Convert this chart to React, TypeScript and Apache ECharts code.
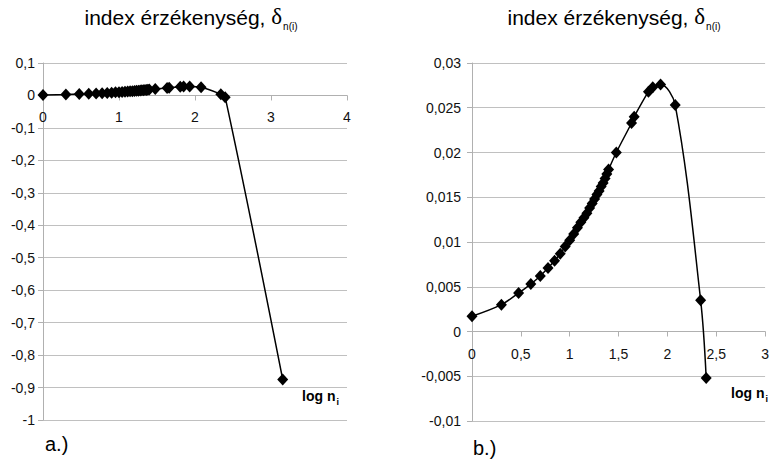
import React, { useEffect, useRef } from "react";
import * as echarts from "echarts";

// log n_i values (x) and index sensitivity values (y)
const logN = [
  0, 0.301, 0.477, 0.602, 0.699, 0.778, 0.845, 0.903, 0.954, 1.0, 1.041, 1.079,
  1.114, 1.146, 1.176, 1.204, 1.23, 1.255, 1.279, 1.301, 1.322, 1.342, 1.362,
  1.38, 1.398, 1.477, 1.633, 1.66, 1.806, 1.85, 1.93, 2.08, 2.34, 2.397,
];
const delta = [
  0.0017, 0.003, 0.0043, 0.0053, 0.0062, 0.0071, 0.0079, 0.0087, 0.0095, 0.0102,
  0.0109, 0.0116, 0.0122, 0.0127, 0.0132, 0.0138, 0.0143, 0.0148, 0.0153,
  0.0157, 0.0162, 0.0166, 0.0171, 0.0176, 0.0181, 0.02, 0.0233, 0.024, 0.0268,
  0.0273, 0.0276, 0.0253, 0.0035, -0.0052,
];
// extra far point shown only in chart a.)
const extraLogN = [3.154];
const extraDelta = [-0.875];

// axis ranges
const yRangeA = [-1, 0.1];
const yRangeB = [-0.01, 0.03];
const xMaxA = 4;
const xMaxB = 3;

const FONT = "Liberation Sans, Arial, sans-serif";
const GRID_COLOR = "#c0c0c0";
const AXIS_COLOR = "#b0b0b0";

const fmt = (v: number) => {
  const r = Number(v.toFixed(4));
  return String(r).replace(".", ",");
};

export default function App() {
  const ref = useRef<HTMLDivElement>(null);
  useEffect(() => {
    if (!ref.current) return;
    const chart = echarts.init(ref.current, undefined, { renderer: "svg" });

    const dataA = logN.map((x, i) => [x, delta[i]]).concat(
      extraLogN.map((x, i) => [x, extraDelta[i]])
    );
    const dataB = logN.map((x, i) => [x, delta[i]]);

    const gridA = { left: 43, top: 63, width: 304, height: 357 };
    const gridB = { left: 472, top: 63, width: 297, height: 358 };
    // distance of the zero line from the bottom of each grid
    const zeroOffA = ((0 - yRangeA[0]) / (yRangeA[1] - yRangeA[0])) * gridA.height;
    const zeroOffB = ((0 - yRangeB[0]) / (yRangeB[1] - yRangeB[0])) * gridB.height;

    const axisX = (gi: number, max: number, interval: number, zeroOff: number) => ({
      type: "value" as const,
      gridIndex: gi,
      min: 0,
      max,
      interval,
      position: "bottom" as const,
      offset: -zeroOff,
      axisLine: { show: true, onZero: false, lineStyle: { color: AXIS_COLOR, width: 1 } },
      axisTick: { show: true, length: 5, lineStyle: { color: AXIS_COLOR } },
      splitLine: { show: false },
      axisLabel: {
        color: "#111",
        fontSize: 14,
        fontFamily: FONT,
        margin: 15,
        formatter: fmt,
        showMaxLabel: true,
      },
    });
    const axisY = (gi: number, min: number, max: number, interval: number, margin: number) => ({
      type: "value" as const,
      gridIndex: gi,
      min,
      max,
      interval,
      axisLine: { show: true, onZero: false, lineStyle: { color: AXIS_COLOR, width: 1 } },
      axisTick: { show: true, length: 5, lineStyle: { color: AXIS_COLOR } },
      splitLine: { show: true, lineStyle: { color: GRID_COLOR, width: 1 } },
      axisLabel: {
        color: "#111",
        fontSize: 14,
        fontFamily: FONT,
        margin,
        formatter: fmt,
      },
    });

    const titleRich = {
      a: { fontSize: 21, fontWeight: "normal", fontFamily: FONT, color: "#000", lineHeight: 28, verticalAlign: "bottom" },
      d: { fontSize: 23, fontWeight: "normal", fontFamily: "Liberation Serif, Times New Roman, serif", color: "#000", lineHeight: 28, verticalAlign: "bottom" },
      s: { fontSize: 10, fontWeight: "normal", fontFamily: FONT, color: "#000", lineHeight: 10, verticalAlign: "bottom", padding: [0, 0, -3, 1] },
    };
    const titleText = "{a|index érzékenység, }{d|δ}{s|n(i)}";

    const lognRich = {
      b: { fontSize: 14, fontWeight: "bold", fontFamily: FONT, color: "#000", lineHeight: 18, verticalAlign: "bottom" },
      i: { fontSize: 9, fontWeight: "bold", fontFamily: FONT, color: "#000", lineHeight: 9, verticalAlign: "bottom", padding: [0, 0, -3, 1] },
    };

    chart.setOption({
      animation: false,
      backgroundColor: "#fff",
      title: [
        { text: titleText, left: 186, top: -5, textAlign: "center", textStyle: { fontWeight: "normal", rich: titleRich } },
        { text: titleText, left: 609, top: -5, textAlign: "center", textStyle: { fontWeight: "normal", rich: titleRich } },
      ],
      grid: [gridA, gridB],
      xAxis: [axisX(0, xMaxA, 1, zeroOffA), axisX(1, xMaxB, 0.5, zeroOffB)],
      yAxis: [
        axisY(0, yRangeA[0], yRangeA[1], 0.1, 8),
        axisY(1, yRangeB[0], yRangeB[1], 0.005, 11),
      ],
      series: [
        {
          type: "line",
          xAxisIndex: 0,
          yAxisIndex: 0,
          data: dataA,
          smooth: 0.35,
          symbol: "diamond",
          symbolSize: [11, 12],
          itemStyle: { color: "#000" },
          lineStyle: { color: "#000", width: 1.5 },
        },
        {
          type: "line",
          xAxisIndex: 1,
          yAxisIndex: 1,
          data: dataB,
          smooth: 0.35,
          symbol: "diamond",
          symbolSize: [11, 12],
          itemStyle: { color: "#000" },
          lineStyle: { color: "#000", width: 1.5 },
        },
      ],
      graphic: [
        {
          type: "text",
          left: 302,
          top: 389,
          style: { text: "{b|log n}{i|i}", rich: lognRich },
        },
        {
          type: "text",
          left: 731,
          top: 386,
          style: { text: "{b|log n}{i|i}", rich: lognRich },
        },
        {
          type: "text",
          left: 45,
          top: 434,
          style: { text: "a.)", fontSize: 20, fontFamily: FONT, fill: "#000" },
        },
        {
          type: "text",
          left: 473,
          top: 438,
          style: { text: "b.)", fontSize: 20, fontFamily: FONT, fill: "#000" },
        },
      ],
    });
    return () => chart.dispose();
  }, []);
  return (
    <div
      ref={ref}
      style={{ position: "fixed", left: 0, top: 0, width: 772, height: 463 }}
    />
  );
}
